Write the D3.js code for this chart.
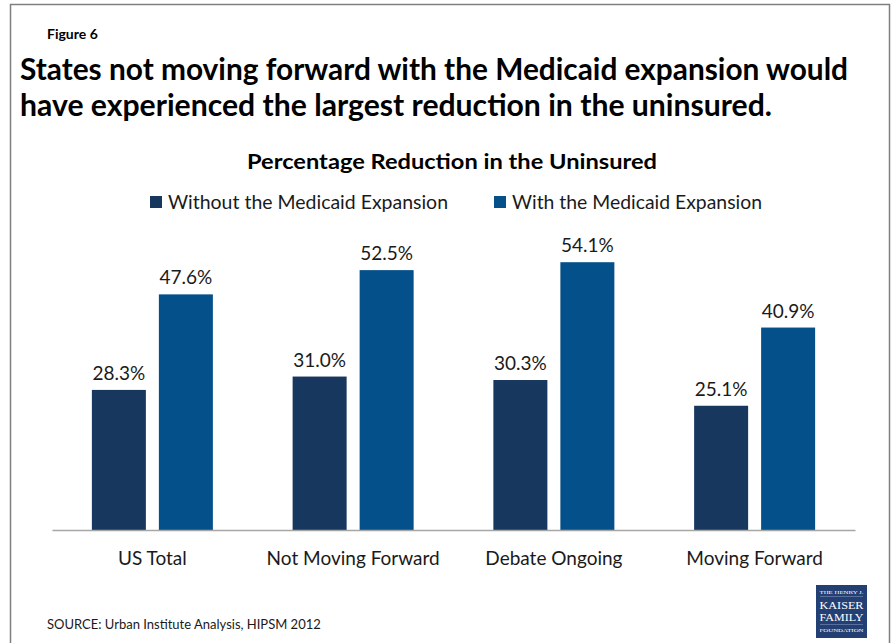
<!DOCTYPE html>
<html>
<head>
<meta charset="utf-8">
<script src="https://cdn.jsdelivr.net/npm/d3@7"></script>
<style>
  html, body { margin: 0; padding: 0; background: #fff; }
  svg { display: block; font-family: Lato, "Open Sans", sans-serif; }
</style>
</head>
<body>
<svg id="chart" width="896" height="643"></svg>
<script>
const categories = ["US Total", "Not Moving Forward", "Debate Ongoing", "Moving Forward"];
const seriesNames = ["Without the Medicaid Expansion", "With the Medicaid Expansion"];
const withoutExpansion = [28.3, 31.0, 30.3, 25.1];
const withExpansion = [47.6, 52.5, 54.1, 40.9];
const valueLabels = [
  ["28.3%", "31.0%", "30.3%", "25.1%"],
  ["47.6%", "52.5%", "54.1%", "40.9%"]
];
const colors = ["#17375e", "#03508a"];

const svg = d3.select("#chart");

// frame
svg.append("rect").attr("x", 10.5).attr("y", 4.5).attr("width", 879).attr("height", 660)
  .attr("fill", "none").attr("stroke", "#7f7f7f").attr("stroke-width", 1.5);

// headings
svg.append("text").attr("x", 47).attr("y", 39).attr("font-size", 14).attr("font-weight", 700)
  .attr("fill", "#000").text("Figure 6");
svg.append("text").attr("x", 20).attr("y", 80).attr("font-size", 31).attr("font-weight", 700)
  .attr("textLength", 828).attr("lengthAdjust", "spacingAndGlyphs")
  .text("States not moving forward with the Medicaid expansion would");
svg.append("text").attr("x", 20).attr("y", 116).attr("font-size", 31).attr("font-weight", 700)
  .attr("textLength", 752).attr("lengthAdjust", "spacingAndGlyphs")
  .text("have experienced the largest reduction in the uninsured.");
svg.append("text").attr("x", 452).attr("y", 169).attr("font-size", 21).attr("font-weight", 700)
  .attr("text-anchor", "middle").attr("textLength", 410).attr("lengthAdjust", "spacingAndGlyphs")
  .text("Percentage Reduction in the Uninsured");

// legend
const legendX = [150, 494];
const legendW = [280, 250];
seriesNames.forEach((name, i) => {
  svg.append("rect").attr("x", legendX[i]).attr("y", 196).attr("width", 12).attr("height", 12)
    .attr("fill", colors[i]);
  svg.append("text").attr("x", legendX[i] + 18).attr("y", 209).attr("font-size", 19)
    .attr("textLength", legendW[i]).attr("lengthAdjust", "spacingAndGlyphs")
    .attr("fill", "#1a1a1a").text(name);
});

// scales
const baseY = 530;
const y = d3.scaleLinear().domain([0, 60]).range([baseY, baseY - 297]);
const x0 = d3.scaleBand().domain(categories).range([52, 855]).paddingInner(0).paddingOuter(0);
const pairW = 121;
const x1 = d3.scaleBand().domain(seriesNames).range([0, pairW]).paddingInner(0.194).paddingOuter(0);

const data = categories.map((c, i) => ({
  cat: c,
  vals: [withoutExpansion[i], withExpansion[i]],
  labels: [valueLabels[0][i], valueLabels[1][i]]
}));

const groups = svg.selectAll("g.cat").data(data).join("g").attr("class", "cat")
  .attr("transform", d => `translate(${x0(d.cat) + x0.bandwidth() / 2 - pairW / 2},0)`);

groups.selectAll("rect").data(d => d.vals.map((v, j) => ({ v, j, s: seriesNames[j] })))
  .join("rect")
  .attr("x", d => x1(d.s))
  .attr("y", d => y(d.v))
  .attr("width", x1.bandwidth())
  .attr("height", d => baseY - y(d.v))
  .attr("fill", d => colors[d.j]);

groups.selectAll("text.val").data(d => d.vals.map((v, j) => ({ v, j, s: seriesNames[j], l: d.labels[j] })))
  .join("text").attr("class", "val")
  .attr("x", d => x1(d.s) + x1.bandwidth() / 2)
  .attr("y", d => y(d.v) - 10)
  .attr("text-anchor", "middle").attr("font-size", 19).attr("fill", "#1a1a1a")
  .text(d => d.l);

// axis
const xAxis = d3.axisBottom(x0).tickSize(0).tickPadding(22);
const ax = svg.append("g").attr("transform", `translate(0,${baseY})`).call(xAxis);
ax.select(".domain").attr("stroke", "#a6a6a6").attr("stroke-width", 1.5);
ax.selectAll("text").attr("font-size", 19).attr("fill", "#1a1a1a")
  .attr("font-family", "Lato, 'Open Sans', sans-serif");

// source
svg.append("text").attr("x", 47).attr("y", 629).attr("font-size", 13).attr("fill", "#1a1a1a")
  .text("SOURCE: Urban Institute Analysis, HIPSM 2012");

// logo
const logo = svg.append("g").attr("transform", "translate(816,585)");
logo.append("rect").attr("width", 51).attr("height", 53).attr("fill", "#243f73");
const lt = [["THE HENRY J.", 9, 5], ["KAISER", 24, 10], ["FAMILY", 36, 10], ["FOUNDATION", 47, 5]];
lt.forEach(([t, yy, fs]) => {
  logo.append("text").attr("x", 25.5).attr("y", yy).attr("text-anchor", "middle")
    .attr("font-family", "'Liberation Serif', serif").attr("font-size", fs).attr("fill", "#fff")
    .attr("textLength", 44).attr("lengthAdjust", "spacingAndGlyphs").text(t);
});
logo.append("line").attr("x1", 4).attr("x2", 47).attr("y1", 11.5).attr("y2", 11.5)
  .attr("stroke", "#8fa3c6").attr("stroke-width", 0.5);
logo.append("line").attr("x1", 4).attr("x2", 47).attr("y1", 39.5).attr("y2", 39.5)
  .attr("stroke", "#8fa3c6").attr("stroke-width", 0.5);
</script>
</body>
</html>
